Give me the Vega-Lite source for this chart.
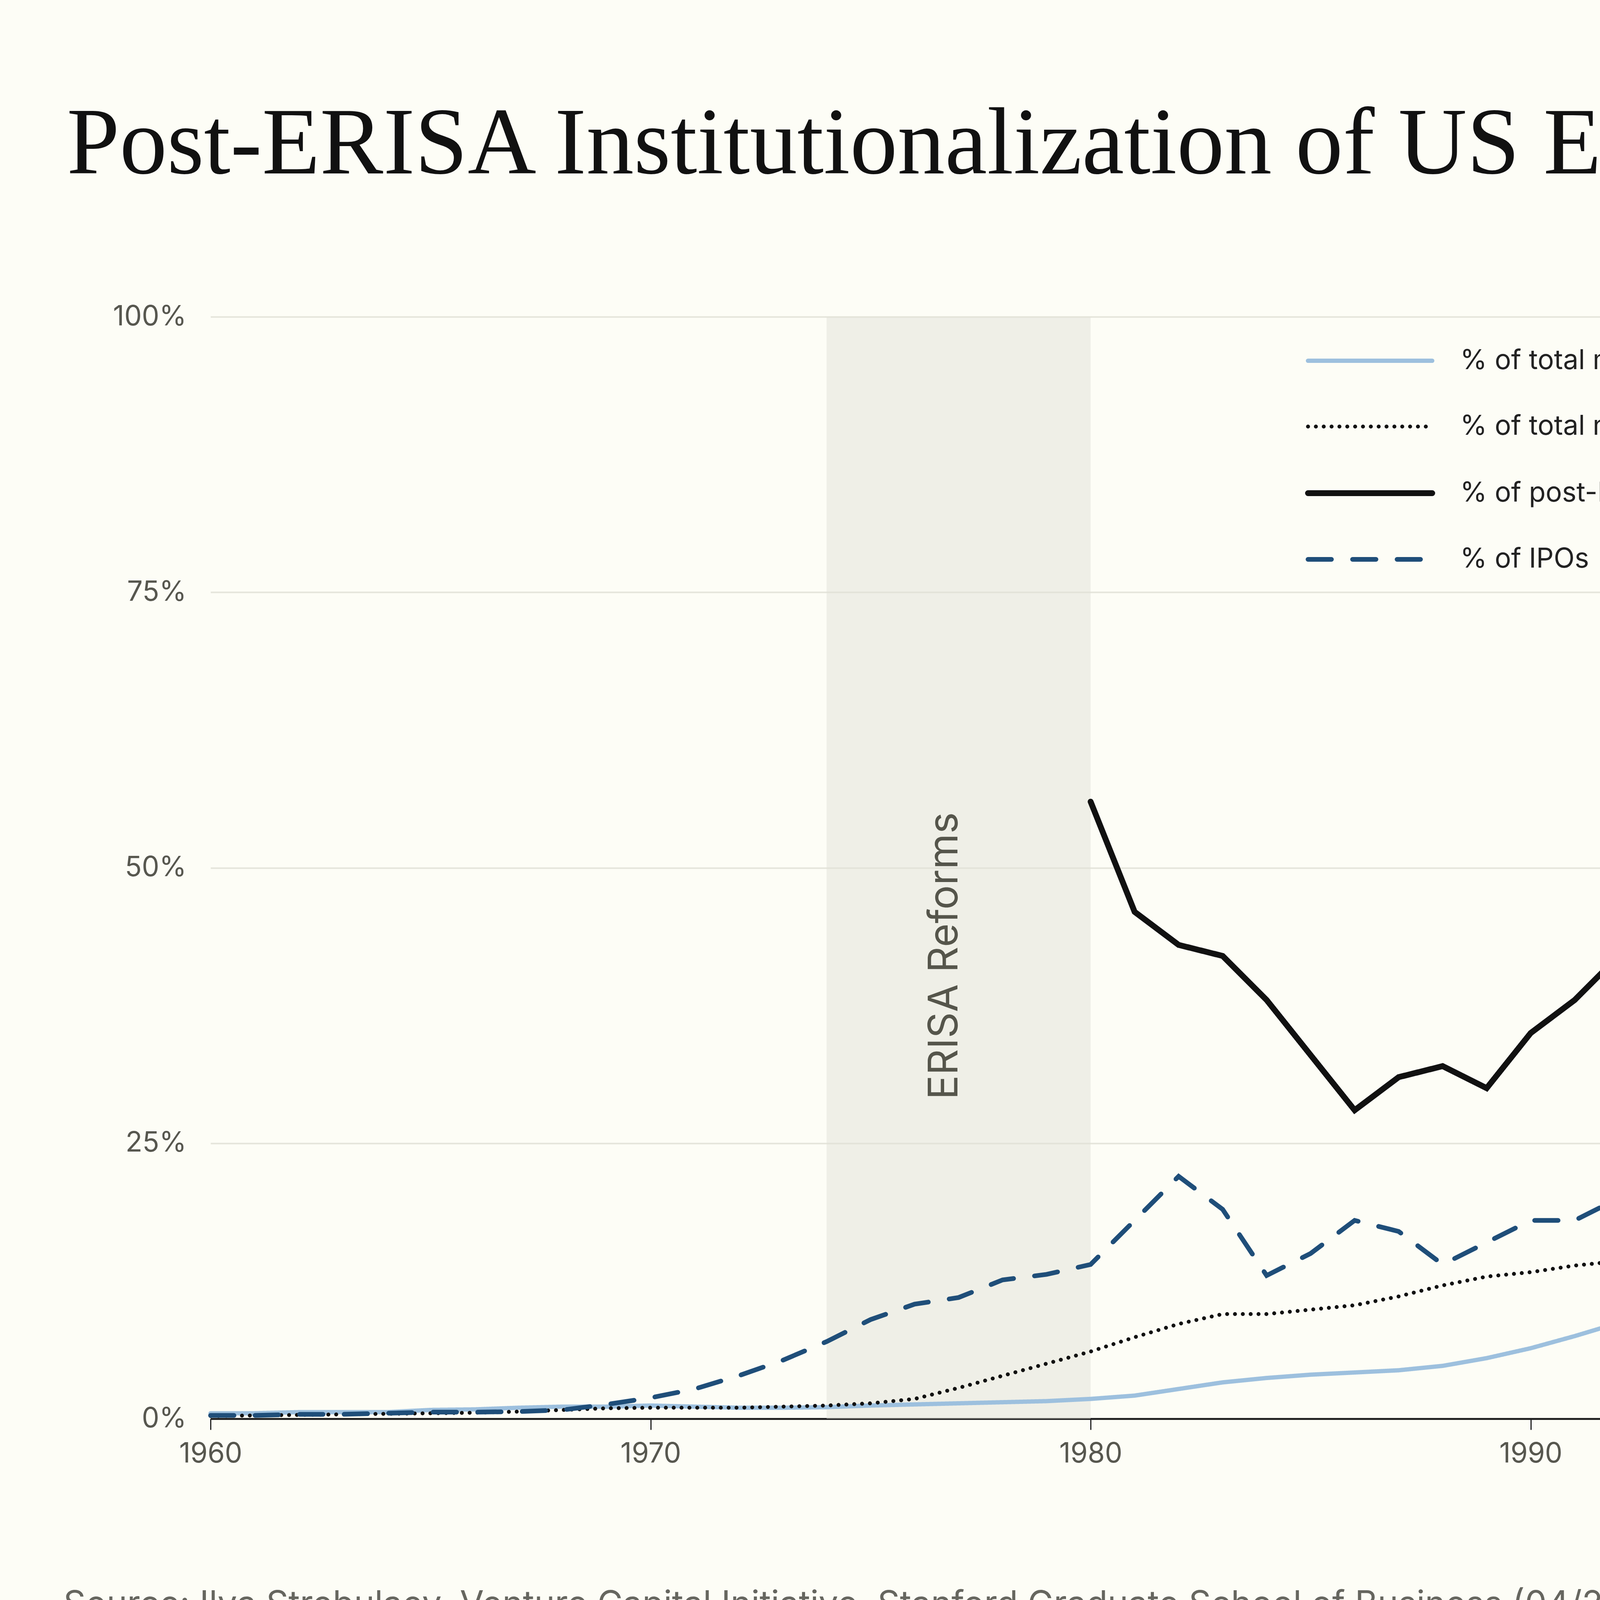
{
  "$schema": "https://vega.github.io/schema/vega-lite/v6.json",
  "width": 7680,
  "height": 4320,
  "autosize": {"type": "fit", "contains": "padding"},
  "padding": {"left": 162, "top": 250, "right": 162, "bottom": 124},
  "background": "#FDFDF6",
  "title": {
    "text": "Post-ERISA Institutionalization of US Equities",
    "anchor": "start",
    "frame": "group",
    "dx": -368,
    "offset": 280,
    "font": "Liberation Serif",
    "fontSize": 243,
    "fontWeight": "normal",
    "color": "#111111"
  },
  "datasets": {
    "series": [
      {"year": 1960, "mcap": 0.5, "num": 0.25, "post": null, "ipo": 0.3},
      {"year": 1961, "mcap": 0.5, "num": 0.3, "post": null, "ipo": 0.3},
      {"year": 1962, "mcap": 0.6, "num": 0.35, "post": null, "ipo": 0.4},
      {"year": 1963, "mcap": 0.6, "num": 0.4, "post": null, "ipo": 0.4},
      {"year": 1964, "mcap": 0.6, "num": 0.45, "post": null, "ipo": 0.5},
      {"year": 1965, "mcap": 0.8, "num": 0.5, "post": null, "ipo": 0.6},
      {"year": 1966, "mcap": 0.85, "num": 0.55, "post": null, "ipo": 0.6},
      {"year": 1967, "mcap": 1.0, "num": 0.65, "post": null, "ipo": 0.65},
      {"year": 1968, "mcap": 1.1, "num": 0.8, "post": null, "ipo": 0.8},
      {"year": 1969, "mcap": 1.1, "num": 0.95, "post": null, "ipo": 1.3},
      {"year": 1970, "mcap": 1.2, "num": 1.0, "post": null, "ipo": 1.9},
      {"year": 1971, "mcap": 1.1, "num": 1.0, "post": null, "ipo": 2.7},
      {"year": 1972, "mcap": 1.0, "num": 1.0, "post": null, "ipo": 3.9},
      {"year": 1973, "mcap": 1.0, "num": 1.1, "post": null, "ipo": 5.3},
      {"year": 1974, "mcap": 1.05, "num": 1.2, "post": null, "ipo": 7.0},
      {"year": 1975, "mcap": 1.2, "num": 1.4, "post": null, "ipo": 9.0},
      {"year": 1976, "mcap": 1.3, "num": 1.8, "post": null, "ipo": 10.4},
      {"year": 1977, "mcap": 1.4, "num": 2.8, "post": null, "ipo": 11.0},
      {"year": 1978, "mcap": 1.5, "num": 3.9, "post": null, "ipo": 12.6},
      {"year": 1979, "mcap": 1.6, "num": 5.0, "post": null, "ipo": 13.1},
      {"year": 1980, "mcap": 1.8, "num": 6.1, "post": 56, "ipo": 14.0},
      {"year": 1981, "mcap": 2.1, "num": 7.4, "post": 46, "ipo": 18},
      {"year": 1982, "mcap": 2.7, "num": 8.6, "post": 43, "ipo": 22},
      {"year": 1983, "mcap": 3.3, "num": 9.5, "post": 42, "ipo": 19},
      {"year": 1984, "mcap": 3.7, "num": 9.5, "post": 38, "ipo": 13},
      {"year": 1985, "mcap": 4.0, "num": 9.9, "post": 33, "ipo": 15},
      {"year": 1986, "mcap": 4.2, "num": 10.3, "post": 28, "ipo": 18},
      {"year": 1987, "mcap": 4.4, "num": 11.1, "post": 31, "ipo": 17},
      {"year": 1988, "mcap": 4.8, "num": 12.1, "post": 32, "ipo": 14},
      {"year": 1989, "mcap": 5.5, "num": 12.9, "post": 30, "ipo": 16},
      {"year": 1990, "mcap": 6.4, "num": 13.3, "post": 35, "ipo": 18},
      {"year": 1991, "mcap": 7.5, "num": 13.9, "post": 38, "ipo": 18},
      {"year": 1992, "mcap": 8.7, "num": 14.3, "post": 42, "ipo": 20},
      {"year": 1993, "mcap": 9.9, "num": 15.0, "post": 40, "ipo": 22},
      {"year": 1994, "mcap": 10.6, "num": 15.7, "post": 38, "ipo": 23},
      {"year": 1995, "mcap": 12.5, "num": 16.6, "post": 37, "ipo": 26},
      {"year": 1996, "mcap": 14.0, "num": 17.0, "post": 41, "ipo": 28},
      {"year": 1997, "mcap": 16.0, "num": 17.8, "post": 47, "ipo": 30},
      {"year": 1998, "mcap": 18.1, "num": 18.7, "post": 53, "ipo": 32},
      {"year": 1999, "mcap": 20.5, "num": 19.7, "post": 60, "ipo": 44.7},
      {"year": 2000, "mcap": 22.8, "num": 21.0, "post": 62, "ipo": 55},
      {"year": 2001, "mcap": 21.1, "num": 20.5, "post": 57, "ipo": 37},
      {"year": 2002, "mcap": 20.0, "num": 20.1, "post": 55, "ipo": 25},
      {"year": 2003, "mcap": 19.8, "num": 20.9, "post": 56, "ipo": 18},
      {"year": 2004, "mcap": 19.0, "num": 21.1, "post": 57, "ipo": 36},
      {"year": 2005, "mcap": 18.2, "num": 20.3, "post": 56, "ipo": 26},
      {"year": 2006, "mcap": 17.4, "num": 20.1, "post": 53, "ipo": 23},
      {"year": 2007, "mcap": 16.5, "num": 21.1, "post": 55, "ipo": 40},
      {"year": 2008, "mcap": 15.5, "num": 20.4, "post": 56, "ipo": 18},
      {"year": 2009, "mcap": 16.5, "num": 19.1, "post": 58, "ipo": 20},
      {"year": 2010, "mcap": 17.2, "num": 18.5, "post": 60, "ipo": 27},
      {"year": 2011, "mcap": 17.2, "num": 19.1, "post": 60, "ipo": 26},
      {"year": 2012, "mcap": 17.3, "num": 19.9, "post": 62, "ipo": 33},
      {"year": 2013, "mcap": 18.1, "num": 20.5, "post": 62, "ipo": 38},
      {"year": 2014, "mcap": 19.3, "num": 21.1, "post": 63, "ipo": 30},
      {"year": 2015, "mcap": 20.5, "num": 22.1, "post": 66, "ipo": 33},
      {"year": 2016, "mcap": 22.1, "num": 22.3, "post": 60, "ipo": 38},
      {"year": 2017, "mcap": 25.0, "num": 22.3, "post": 64, "ipo": 25},
      {"year": 2018, "mcap": 28.5, "num": 22.5, "post": 60, "ipo": 38},
      {"year": 2019, "mcap": 32.1, "num": 24.2, "post": 68, "ipo": 45},
      {"year": 2020, "mcap": 41.1, "num": 26.2, "post": 76, "ipo": 58}
    ]
  },
  "encoding": {
    "x": {
      "field": "year",
      "type": "quantitative",
      "scale": {"domain": [1960, 2020], "nice": false, "zero": false},
      "axis": {
        "values": [1960, 1970, 1980, 1990, 2000, 2010, 2020],
        "format": "d",
        "title": "Source: Ilya Strebulaev, Venture Capital Initiative, Stanford Graduate School of Business (04/2024)",
        "titleX": -377,
        "titleY": 476,
        "titleAlign": "left",
        "titleBaseline": "middle",
        "titleFont": "Inter",
        "titleFontSize": 89,
        "titleFontWeight": "normal",
        "titleColor": "#66665F",
        "titleLimit": 10000,
        "grid": false,
        "labelFlush": false,
        "domainColor": "#222222",
        "domainWidth": 5,
        "tickColor": "#222222",
        "tickWidth": 3,
        "tickSize": 28,
        "labelPadding": 27,
        "labelFont": "Inter",
        "labelFontSize": 71,
        "labelColor": "#57574F",
        "labelLimit": 500
      }
    },
    "y": {
      "field": "v",
      "type": "quantitative",
      "scale": {"domain": [0, 100], "nice": false},
      "axis": {
        "values": [0, 25, 50, 75, 100],
        "labelExpr": "datum.value + '%'",
        "title": "Murph",
        "titleAngle": 0,
        "titleX": {"expr": "width + 220"},
        "titleY": {"expr": "height + 534"},
        "titleAlign": "right",
        "titleBaseline": "alphabetic",
        "titleFont": "Liberation Serif",
        "titleFontSize": 150,
        "titleFontWeight": "normal",
        "titleColor": "#111111",
        "domain": false,
        "ticks": false,
        "grid": true,
        "gridColor": "#E5E5DB",
        "gridWidth": 4,
        "labelPadding": 62,
        "labelFont": "Inter",
        "labelFontSize": 71,
        "labelColor": "#57574F",
        "labelLimit": 500
      }
    }
  },
  "layer": [
    {
      "data": {"values": [{"year": 1974, "year2": 1980, "v": 0, "v2": 100}]},
      "mark": {"type": "rect", "color": "#E1E1D8", "opacity": 0.5},
      "encoding": {
        "x2": {"field": "year2"},
        "y2": {"field": "v2"}
      }
    },
    {
      "data": {"values": [{"year": 1976.7, "v": 42, "label": "ERISA Reforms"}]},
      "mark": {
        "type": "text",
        "angle": 270,
        "align": "center",
        "baseline": "middle",
        "font": "Inter",
        "fontSize": 104,
        "color": "#55554B"
      },
      "encoding": {"text": {"field": "label"}}
    },
    {
      "data": {"name": "series"},
      "transform": [
        {"fold": ["mcap", "num", "post", "ipo"], "as": ["s", "v"]},
        {"filter": "isValid(datum.v)"}
      ],
      "encoding": {
        "color": {
          "field": "s",
          "type": "nominal",
          "scale": {
            "domain": ["mcap", "num", "post", "ipo"],
            "range": ["#9DC0DE", "#111111", "#111111", "#1F4E79"]
          },
          "legend": {
            "title": null,
            "orient": "none",
            "legendX": 2908,
            "legendY": 54,
            "symbolType": "M-3,0H3",
            "symbolSize": 11236,
            "labelFont": "Inter",
            "labelFontSize": 70,
            "labelColor": "#222222",
            "labelOffset": 170,
            "rowPadding": 75,
            "padding": 0,
            "labelLimit": 0,
            "encoding": {"symbols": {"strokeCap": {"value": "round"}}},
            "labelExpr": "datum.value == 'mcap' ? '% of total market cap' : datum.value == 'num' ? '% of total number' : datum.value == 'post' ? '% of post-ERISA market cap' : '% of IPOs'"
          }
        },
        "strokeDash": {
          "field": "s",
          "type": "nominal",
          "scale": {
            "domain": ["mcap", "num", "post", "ipo"],
            "range": [[1, 0], [0.1, 20], [1, 0], [60, 54]]
          },
          "legend": {"title": null}
        },
        "strokeWidth": {
          "field": "s",
          "type": "nominal",
          "scale": {
            "type": "ordinal",
            "domain": ["mcap", "num", "post", "ipo"],
            "range": [11, 10, 15, 12]
          },
          "legend": {"title": null}
        }
      },
      "layer": [
        {
          "transform": [{"filter": "datum.s == 'mcap'"}],
          "mark": {"type": "line", "strokeCap": "round"}
        },
        {
          "transform": [{"filter": "datum.s == 'num'"}],
          "mark": {"type": "line", "strokeCap": "round"}
        },
        {
          "transform": [{"filter": "datum.s == 'post'"}],
          "mark": {"type": "line", "strokeCap": "round"}
        },
        {
          "transform": [{"filter": "datum.s == 'ipo'"}],
          "mark": {"type": "line", "strokeCap": "round"}
        }
      ]
    }
  ],
  "config": {
    "view": {"stroke": null},
    "font": "Inter"
  }
}
